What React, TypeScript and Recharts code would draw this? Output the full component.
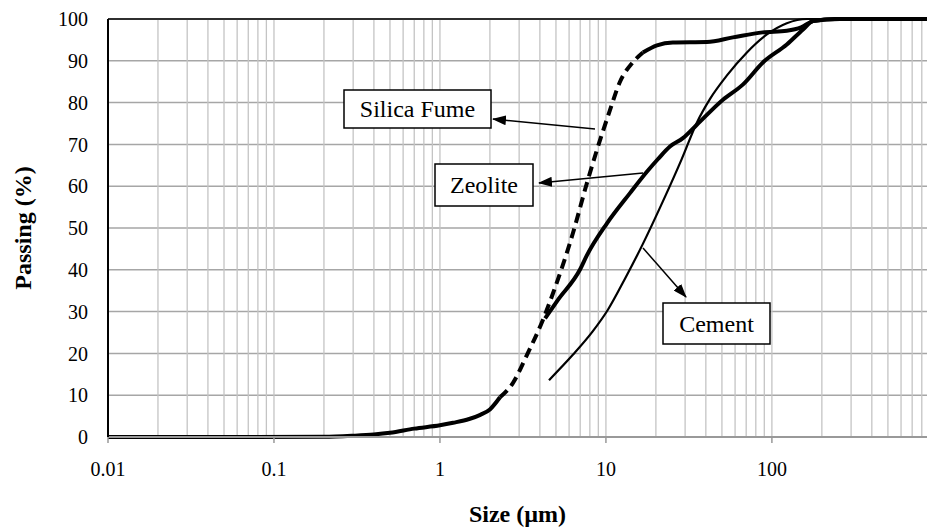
import { LineChart, Line, XAxis, YAxis, CartesianGrid, ReferenceLine, Label } from 'recharts';

// Particle size distribution: size (µm) vs passing (%)
type Pt = { size: number; pass: number };

const xTicks = [0.01, 0.1, 1, 10, 100];
const yTicks = [0, 10, 20, 30, 40, 50, 60, 70, 80, 90, 100];

// silica fume is drawn solid / dashed / solid, as in the figure
const silicaLow: Pt[] = [
  { size: 0.01, pass: 0 }, { size: 0.05, pass: 0 }, { size: 0.2, pass: 0.05 },
  { size: 0.3, pass: 0.3 }, { size: 0.4, pass: 0.6 }, { size: 0.5, pass: 1.0 },
  { size: 0.7, pass: 2.0 }, { size: 1.0, pass: 2.8 }, { size: 1.2, pass: 3.4 },
  { size: 1.5, pass: 4.3 }, { size: 1.75, pass: 5.3 }, { size: 2.0, pass: 6.6 },
  { size: 2.3, pass: 9.5 },
];
const silicaDash: Pt[] = [
  { size: 2.3, pass: 9.5 }, { size: 2.75, pass: 12.9 }, { size: 3.34, pass: 19.6 },
  { size: 4.17, pass: 28 }, { size: 4.8, pass: 34.4 }, { size: 6.33, pass: 48.8 },
  { size: 7.69, pass: 60.8 }, { size: 8.83, pass: 68.7 }, { size: 10.6, pass: 78.3 },
  { size: 12.1, pass: 84.8 }, { size: 14.5, pass: 89.6 }, { size: 16.7, pass: 92 },
];
const silicaHigh: Pt[] = [
  { size: 16.7, pass: 92 }, { size: 20.3, pass: 93.7 }, { size: 25.3, pass: 94.4 },
  { size: 40.6, pass: 94.5 }, { size: 58.2, pass: 95.6 }, { size: 88, pass: 96.8 },
  { size: 123, pass: 97.2 }, { size: 150, pass: 98 }, { size: 177, pass: 99.5 },
  { size: 240, pass: 100 }, { size: 860, pass: 100 },
];
const zeolite: Pt[] = [
  { size: 4.3, pass: 28.4 }, { size: 5.14, pass: 32.8 }, { size: 6.97, pass: 40 },
  { size: 7.69, pass: 43.5 }, { size: 10.1, pass: 51 }, { size: 14, pass: 58.4 },
  { size: 17.7, pass: 63.5 }, { size: 20.6, pass: 66.5 }, { size: 24.3, pass: 69.5 },
  { size: 29.1, pass: 71.5 }, { size: 35.3, pass: 74.7 }, { size: 50.7, pass: 80.7 },
  { size: 66.8, pass: 84.3 }, { size: 88.3, pass: 89.6 }, { size: 123, pass: 93.9 },
  { size: 154, pass: 97.5 }, { size: 177, pass: 99.5 }, { size: 257, pass: 100 },
  { size: 860, pass: 100 },
];
const cement: Pt[] = [
  { size: 4.54, pass: 13.6 }, { size: 6.3, pass: 19.6 }, { size: 8.3, pass: 25.2 },
  { size: 10.3, pass: 30.5 }, { size: 13, pass: 37.8 }, { size: 16.7, pass: 46.2 },
  { size: 22, pass: 56.3 }, { size: 28.7, pass: 66.6 }, { size: 35.3, pass: 75.2 },
  { size: 42.4, pass: 80.9 }, { size: 53.6, pass: 86.5 }, { size: 70.7, pass: 92 },
  { size: 93.3, pass: 96.3 }, { size: 123, pass: 99 }, { size: 163, pass: 100 },
  { size: 860, pass: 100 },
];

// log grid: 1..9 in every decade
const gridX: number[] = [];
for (let d = -2; d <= 2; d++) {
  for (let k = 1; k <= 9; k++) {
    const v = Number((k * Math.pow(10, d)).toPrecision(3));
    if (v > 0.01 && v < 860) gridX.push(v);
  }
}

const serif = '"Liberation Serif", "Times New Roman", serif';

const App = () => {
  return (
    <div style={{ position: 'absolute', left: 0, top: 0, width: 927, height: 529, background: '#fff' }}>
      <LineChart width={927} height={529} margin={{ top: 19, right: 0, left: 0, bottom: 0 }}>
        <CartesianGrid vertical={false} stroke="#a6a6a6" strokeWidth={1.5} />
        {gridX.map((v) => (
          <ReferenceLine key={v} x={v} stroke="#c4c4c4" strokeWidth={1.3} />
        ))}
        <ReferenceLine y={100} stroke="#000" strokeWidth={1.5} />
        <XAxis
          type="number"
          dataKey="size"
          scale="log"
          domain={[0.01, 860]}
          allowDataOverflow
          ticks={xTicks}
          tickFormatter={(v) => String(v)}
          height={92}
          axisLine={{ stroke: '#999', strokeWidth: 2 }}
          tickLine={{ stroke: '#999', strokeWidth: 1.5 }}
          tickSize={6}
          tickMargin={19}
          tick={{ fill: '#000', fontSize: 20, fontFamily: serif }}
        >
          <Label
            value="Size (µm)"
            position="insideBottom"
            offset={7}
            style={{ fill: '#000', fontSize: 24, fontWeight: 'bold', fontFamily: serif }}
          />
        </XAxis>
        <YAxis
          type="number"
          dataKey="pass"
          domain={[0, 100]}
          ticks={yTicks}
          width={108}
          axisLine={{ stroke: '#000', strokeWidth: 2 }}
          tickLine={false}
          tickSize={0}
          tickMargin={20}
          tick={{ fill: '#000', fontSize: 20, fontFamily: serif }}
        >
          <Label
            content={({ viewBox }: any) => (
              <text
                x={viewBox.x + 23}
                y={viewBox.y + viewBox.height / 2}
                transform={`rotate(-90 ${viewBox.x + 23} ${viewBox.y + viewBox.height / 2})`}
                textAnchor="middle"
                dominantBaseline="central"
                style={{ fill: '#000', fontSize: 24, fontWeight: 'bold', fontFamily: serif }}
              >
                Passing (%)
              </text>
            )}
          />
        </YAxis>
        <Line data={cement} dataKey="pass" type="monotone" stroke="#000" strokeWidth={2.2} dot={false} isAnimationActive={false} />
        <Line data={zeolite} dataKey="pass" type="monotone" stroke="#000" strokeWidth={4} dot={false} isAnimationActive={false} />
        <Line data={silicaLow} dataKey="pass" type="monotone" stroke="#000" strokeWidth={4} dot={false} isAnimationActive={false} />
        <Line data={silicaDash} dataKey="pass" type="monotone" stroke="#000" strokeWidth={4} strokeDasharray="10 6" dot={false} isAnimationActive={false} />
        <Line data={silicaHigh} dataKey="pass" type="monotone" stroke="#000" strokeWidth={4} dot={false} isAnimationActive={false} />
      </LineChart>

      {/* callout boxes and arrows */}
      <svg width={927} height={529} style={{ position: 'absolute', left: 0, top: 0, pointerEvents: 'none' }}>
        <defs>
          <marker id="head" markerUnits="userSpaceOnUse" markerWidth={14} markerHeight={10} refX={13} refY={5} orient="auto">
            <path d="M0,0 L14,5 L0,10 z" fill="#000" />
          </marker>
        </defs>
        <g fontFamily={serif} fontSize={24} fill="#000">
          <rect x={344} y={90} width={147} height={38} fill="#fff" stroke="#000" strokeWidth={1.5} />
          <text x={417.5} y={109} textAnchor="middle" dominantBaseline="central">Silica Fume</text>
          <rect x={435} y={164} width={98} height={42} fill="#fff" stroke="#000" strokeWidth={1.5} />
          <text x={484} y={185} textAnchor="middle" dominantBaseline="central">Zeolite</text>
          <rect x={663} y={303} width={107} height={41} fill="#fff" stroke="#000" strokeWidth={1.5} />
          <text x={716.5} y={323.5} textAnchor="middle" dominantBaseline="central">Cement</text>
        </g>
        <line x1={595} y1={129} x2={493} y2={119} stroke="#000" strokeWidth={1.5} markerEnd="url(#head)" />
        <line x1={643} y1={173} x2={539} y2={183} stroke="#000" strokeWidth={1.5} markerEnd="url(#head)" />
        <line x1={643} y1={248} x2={686} y2={297} stroke="#000" strokeWidth={1.5} markerEnd="url(#head)" />
      </svg>
    </div>
  );
};

export default App;
